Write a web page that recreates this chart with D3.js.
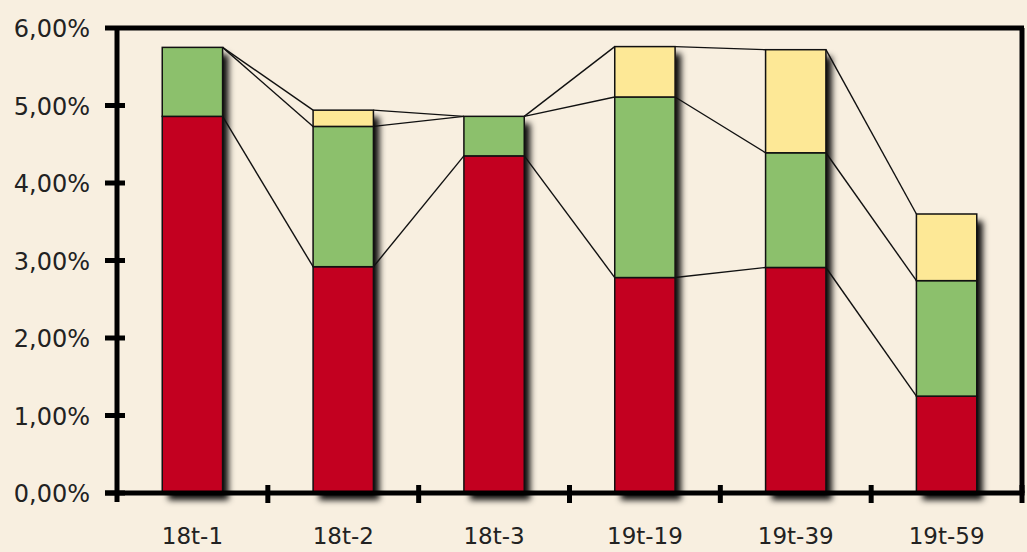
<!DOCTYPE html>
<html><head><meta charset="utf-8">
<script src="https://cdn.jsdelivr.net/npm/d3@7"></script>
<style>
html,body{margin:0;padding:0;background:#f8efe0;}
svg{display:block;}
text{font-family:"DejaVu Sans",Verdana,sans-serif;fill:#222;}
</style></head><body>
<svg id="c" width="1027" height="552"></svg>
<script>
const categories = ["18t-1","18t-2","18t-3","19t-19","19t-39","19t-59"];
const seriesRed    = [4.86, 2.92, 4.35, 2.78, 2.91, 1.25];
const seriesGreen  = [0.89, 1.81, 0.51, 2.33, 1.48, 1.49];
const seriesYellow = [0.00, 0.21, 0.00, 0.65, 1.33, 0.86];
const yTicks = [0,1,2,3,4,5,6];
const seriesColors = ["#c30020","#8cc06c","#fde896"];

const svg = d3.select("#c");
const m = {left:117, right:1022, top:28, bottom:493};

const x = d3.scaleBand().domain(categories).range([m.left, m.right]).paddingInner(0.6).paddingOuter(0.3);
const x0 = d3.scaleBand().domain(categories).range([m.left, m.right]);
const y = d3.scaleLinear().domain([0,6]).range([m.bottom, m.top]);

const defs = svg.append("defs");
const f = defs.append("filter").attr("id","sh").attr("x","-20%").attr("y","-20%").attr("width","160%").attr("height","140%");
f.append("feDropShadow").attr("dx",6).attr("dy",7).attr("stdDeviation",3.4).attr("flood-color","#000").attr("flood-opacity",0.95);

const rows = categories.map((c,i)=>({cat:c, red:seriesRed[i], green:seriesGreen[i], yellow:seriesYellow[i]}));
const stack = d3.stack().keys(["red","green","yellow"])(rows);

// shadows
const gShadow = svg.append("g").attr("filter","url(#sh)");
gShadow.selectAll("rect").data(rows).join("rect")
  .attr("x", d=>x(d.cat)).attr("width", x.bandwidth())
  .attr("y", d=>y(d.red+d.green+d.yellow))
  .attr("height", d=>y(0)-y(d.red+d.green+d.yellow))
  .attr("fill","#c30020");

// series lines
const gLines = svg.append("g");
stack.forEach(s=>{
  for(let i=0;i<s.length-1;i++){
    gLines.append("line")
      .attr("x1", x(categories[i])+x.bandwidth()).attr("y1", y(s[i][1]))
      .attr("x2", x(categories[i+1])).attr("y2", y(s[i+1][1]))
      .attr("stroke","#111").attr("stroke-width",1.4);
  }
});

// bars
const gBars = svg.append("g");
stack.forEach((s,k)=>{
  gBars.append("g").selectAll("rect").data(s.filter(d=>d[1]-d[0]>0)).join("rect")
    .attr("x", d=>x(d.data.cat)).attr("width", x.bandwidth())
    .attr("y", d=>y(d[1])).attr("height", d=>y(d[0])-y(d[1]))
    .attr("fill", seriesColors[k]).attr("stroke","#111").attr("stroke-width",1.5);
});

// frame
svg.append("line").attr("x1",m.left-12).attr("x2",m.right+2).attr("y1",m.top).attr("y2",m.top).attr("stroke","#000").attr("stroke-width",5);
svg.append("line").attr("x1",m.right).attr("x2",m.right).attr("y1",m.top).attr("y2",m.bottom).attr("stroke","#000").attr("stroke-width",5);

// y axis
const ya = svg.append("g").attr("transform",`translate(${m.left},0)`)
  .call(d3.axisLeft(y).tickValues(yTicks).tickSize(0).tickPadding(27)
    .tickFormat(d=>d3.format(".2f")(d).replace(".",",")+"%"));
ya.select(".domain").remove();
ya.selectAll("text").style("font-size","24px").attr("fill","#222").attr("dy","0.36em");
svg.append("line").attr("x1",m.left).attr("x2",m.left).attr("y1",m.top-2).attr("y2",m.bottom+9).attr("stroke","#000").attr("stroke-width",5);
svg.append("g").selectAll("line").data(yTicks.filter(t=>t<6)).join("line")
  .attr("x1",m.left-12).attr("x2",m.left+8).attr("y1",d=>y(d)).attr("y2",d=>y(d))
  .attr("stroke","#000").attr("stroke-width",5);

// x axis
const xa = svg.append("g").attr("transform",`translate(0,${m.bottom})`)
  .call(d3.axisBottom(x).tickSize(0).tickPadding(35));
xa.select(".domain").remove();
xa.selectAll("text").style("font-size","23px").attr("fill","#222");
svg.append("line").attr("x1",m.left-12).attr("x2",m.right+2.5).attr("y1",m.bottom).attr("y2",m.bottom).attr("stroke","#000").attr("stroke-width",5);
const xTickPos = categories.map(c=>x0(c)).slice(1).concat([m.right]);
svg.append("g").selectAll("line").data(xTickPos).join("line")
  .attr("x1",d=>d).attr("x2",d=>d).attr("y1",m.bottom-8).attr("y2",m.bottom+10)
  .attr("stroke","#000").attr("stroke-width",5);
</script>
</body></html>
